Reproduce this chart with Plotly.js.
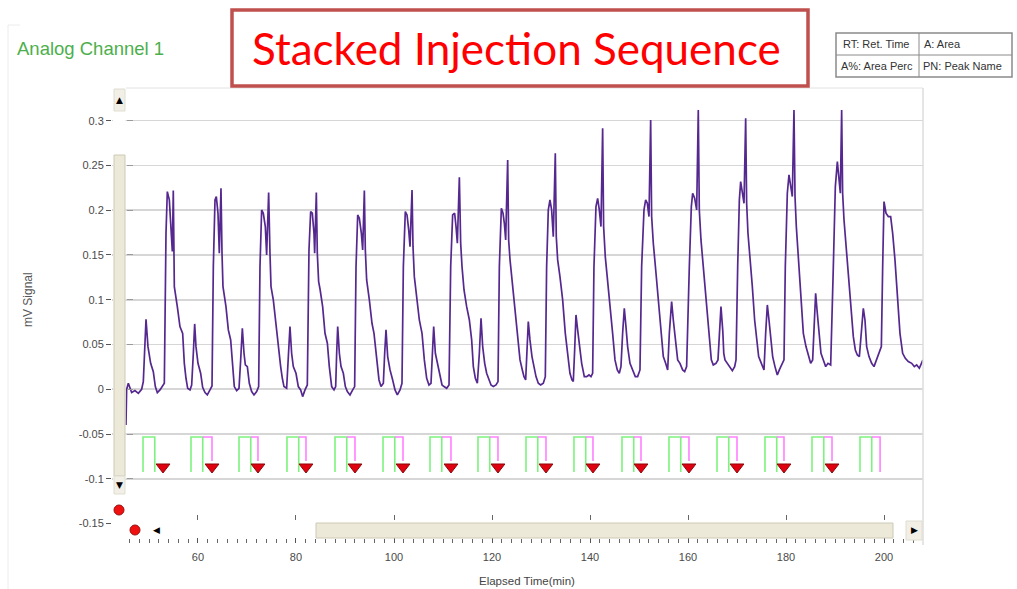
<!DOCTYPE html>
<html>
<head>
<meta charset="utf-8">
<script src="https://cdn.plot.ly/plotly-3.0.1.min.js"></script>
<style>
  html, body { margin: 0; padding: 0; background: #ffffff; }
  #chart { width: 1017px; height: 589px; }
</style>
</head>
<body>
<div id="chart"></div>
<script>
// ---------------- DATA ----------------
const timeMin = [
  45.30, 45.44, 45.78, 46.46, 47.14, 47.82, 48.50, 48.84, 49.39, 49.79, 50.34, 50.88, 51.29, 51.70, 52.24, 52.79, 53.13,
  53.47, 53.74, 54.15, 54.42, 54.76, 54.96, 55.08, 55.17, 55.78, 56.32, 56.87, 57.21, 57.55, 57.89, 58.37, 58.71,
  59.05, 59.32, 59.59, 60.00, 60.54, 60.95, 61.43, 61.90, 62.45, 62.86,
  63.13, 63.47, 63.74, 64.08, 64.35, 64.69, 64.90, 65.10, 65.71, 66.19, 66.67, 67.07, 67.41, 67.89, 68.37,
  68.71, 69.05, 69.39, 69.66, 70.07, 70.47, 70.95, 71.43, 71.97, 72.38,
  72.65, 72.99, 73.33, 73.74, 74.01, 74.42, 74.69, 74.90, 75.37, 75.92, 76.39, 76.87, 77.21, 77.55, 78.09,
  78.43, 78.77, 79.11, 79.45, 80.00, 80.47, 80.95, 81.36, 81.84, 82.31,
  82.65, 82.99, 83.33, 83.67, 83.81, 84.15, 84.35, 84.62, 84.90, 85.44, 85.92, 86.40, 86.80, 87.28, 87.76, 88.10,
  88.30, 88.51, 88.85, 89.19, 89.66, 90.07, 90.48, 91.02, 91.57, 91.97,
  92.25, 92.59, 92.93, 93.34, 93.61, 93.95, 94.15, 94.42, 94.97, 95.51, 95.92, 96.46, 96.94, 97.35, 97.83,
  98.10, 98.37, 98.71, 99.19, 99.73, 100.21, 100.68, 101.23, 101.63,
  101.91, 102.31, 102.66, 103.00, 103.27, 103.68, 103.88, 104.15, 104.63, 105.17, 105.72, 106.19, 106.67, 107.14, 107.55,
  107.83, 108.10, 108.44, 108.85, 109.39, 109.80, 110.21, 110.75, 111.23,
  111.57, 111.97, 112.38, 112.66, 112.93, 113.34, 113.61, 113.88, 114.29, 114.83, 115.38, 115.85, 116.19, 116.60, 117.01,
  117.42, 117.76, 118.10, 118.51, 118.91, 119.39, 119.80, 120.27, 120.82, 121.23,
  121.50, 121.91, 122.25, 122.52, 122.79, 123.20, 123.40, 123.68, 124.22, 124.76, 125.31, 125.72, 126.19, 126.53, 126.87,
  127.14, 127.41, 127.75, 128.16, 128.57, 128.98, 129.45, 129.93, 130.47, 130.88,
  131.15, 131.49, 131.83, 132.17, 132.51, 132.92, 133.12, 133.40, 133.87, 134.42, 134.96, 135.51, 135.91, 136.32, 136.59,
  136.87, 137.14, 137.48, 137.82, 138.30, 138.84, 139.32, 139.79, 140.20, 140.54,
  140.81, 141.22, 141.56, 141.90, 142.24, 142.58, 142.78, 143.12, 143.60, 144.08, 144.62, 145.10, 145.57, 145.98, 146.32,
  146.66, 147.00, 147.34, 147.68, 148.16, 148.70, 149.25, 149.72, 150.20,
  150.54, 151.02, 151.36, 151.70, 152.04, 152.38, 152.58, 152.92, 153.47, 153.94, 154.42, 154.96, 155.44, 155.85,
  156.19, 156.66, 157.00, 157.41, 157.89, 158.36, 158.91, 159.32, 159.72,
  160.27, 160.68, 160.95, 161.36, 161.77, 162.10, 162.31, 162.65, 163.12, 163.67, 164.21, 164.76, 165.16, 165.71, 166.12,
  166.39, 166.73, 167.10, 167.30, 167.55, 168.03, 168.57, 169.05, 169.52, 169.80,
  170.14, 170.48, 170.75, 171.16, 171.43, 171.77, 171.97, 172.24, 172.65, 173.13, 173.60, 174.01, 174.42, 174.83, 175.24, 175.51,
  175.85, 176.19, 176.53, 176.87, 177.28, 177.75, 178.23, 178.64, 179.18, 179.59,
  179.86, 180.27, 180.61, 180.95, 181.29, 181.63, 181.84, 182.11, 182.52, 183.00, 183.54, 184.08, 184.56, 185.03, 185.44,
  185.71, 186.05, 186.39, 186.73, 187.14, 187.62, 188.10, 188.57, 189.12,
  189.66, 190.07, 190.48, 190.82, 191.09, 191.36, 191.56, 191.84, 192.24, 192.72, 193.26, 193.74, 194.15, 194.56, 194.97,
  195.31, 195.78, 196.12, 196.46, 196.94, 197.48, 197.96, 198.50, 199.05, 199.46,
  199.73, 200.00, 200.41, 200.88, 201.36, 201.77, 202.24, 202.72, 203.26, 203.81, 204.35, 204.96, 205.65, 206.19, 206.67, 207.21, 207.69, 207.95
];
const signalMV = [
  -0.040, 0.000, 0.0067, -0.0037, -0.0015, -0.0045, 0.000, 0.0086, 0.0782, 0.0476, 0.029, 0.0197, 0.003, -0.0037, -0.0007, 0.0048, 0.0067,
  0.1742, 0.2208, 0.2115, 0.1891, 0.1538, 0.2219, 0.1538, 0.1147, 0.0923, 0.070, 0.0625, 0.029, 0.0123, 0.0011, -0.0007, 0.0048,
  0.0402, 0.073, 0.0476, 0.029, 0.0179, 0.0022, -0.0037, -0.0063, -0.0007, 0.0037,
  0.137, 0.2115, 0.2152, 0.1966, 0.1519, 0.2245, 0.1519, 0.1147, 0.0923, 0.0663, 0.0551, 0.0253, 0.003, -0.0015, 0.0011,
  0.0328, 0.0681, 0.0402, 0.0272, 0.0253, 0.0067, -0.0026, -0.0063, -0.0026, 0.003,
  0.137, 0.2003, 0.1966, 0.1817, 0.150, 0.2197, 0.1519, 0.1147, 0.0998, 0.070, 0.0514, 0.0253, 0.0123, 0.003, 0.0011,
  0.0402, 0.070, 0.0402, 0.0253, 0.0179, 0.003, -0.0007, -0.0082, -0.0007, 0.0048,
  0.1556, 0.1984, 0.1966, 0.1742, 0.1519, 0.2197, 0.1519, 0.1203, 0.112, 0.0923, 0.0625, 0.0514, 0.0253, 0.003, -0.0007, 0.003,
  0.0402, 0.070, 0.0402, 0.0253, 0.0179, 0.003, -0.0026, -0.0063, -0.0007, 0.003,
  0.137, 0.1947, 0.191, 0.1742, 0.1556, 0.2219, 0.1556, 0.1221, 0.0998, 0.0737, 0.0625, 0.0328, 0.0104, 0.003, 0.0067,
  0.0402, 0.0663, 0.0365, 0.0216, 0.0104, -0.0007, -0.0063, -0.0007, 0.0067,
  0.137, 0.1984, 0.1947, 0.178, 0.1593, 0.2226, 0.1593, 0.1258, 0.0998, 0.0774, 0.0625, 0.0328, 0.0123, 0.0048, 0.0067,
  0.0402, 0.070, 0.0402, 0.029, 0.0141, 0.0048, 0.003, 0.0011, 0.0048,
  0.137, 0.1947, 0.1966, 0.1817, 0.1631, 0.2368, 0.1631, 0.137, 0.1109, 0.0923, 0.0774, 0.0551, 0.0253, 0.0123, 0.0067,
  0.0402, 0.0793, 0.0477, 0.029, 0.0179, 0.0104, 0.0048, 0.003, 0.0048, 0.0086,
  0.137, 0.2022, 0.1966, 0.1854, 0.1668, 0.2561, 0.1668, 0.1445, 0.1147, 0.0923, 0.0625, 0.0328, 0.0216, 0.0141, 0.0104,
  0.0402, 0.0756, 0.0551, 0.0365, 0.0253, 0.0141, 0.0067, 0.0048, 0.0067, 0.0141,
  0.137, 0.2003, 0.2115, 0.2003, 0.1705, 0.2636, 0.1705, 0.1445, 0.1258, 0.0998, 0.0625, 0.0328, 0.0179, 0.0104, 0.0086,
  0.0439, 0.083, 0.0663, 0.0477, 0.029, 0.0141, 0.0141, 0.016, 0.0141, 0.0179,
  0.137, 0.204, 0.2133, 0.2003, 0.1817, 0.2915, 0.1817, 0.1482, 0.1221, 0.0998, 0.0625, 0.0328, 0.0216, 0.0179, 0.0253,
  0.0625, 0.0905, 0.070, 0.0477, 0.029, 0.0216, 0.0141, 0.0141, 0.0216,
  0.137, 0.2003, 0.2115, 0.2077, 0.1929, 0.3008, 0.1929, 0.1631, 0.1296, 0.0998, 0.070, 0.0365, 0.029, 0.0216,
  0.0625, 0.0979, 0.0774, 0.0551, 0.0328, 0.029, 0.0216, 0.0197, 0.0253,
  0.137, 0.204, 0.2189, 0.2133, 0.2003, 0.312, 0.2003, 0.1668, 0.137, 0.0998, 0.070, 0.0328, 0.0272, 0.029, 0.0328,
  0.0625, 0.0923, 0.065, 0.0402, 0.0328, 0.029, 0.0235, 0.0208, 0.0253, 0.0328,
  0.137, 0.2115, 0.232, 0.2189, 0.2077, 0.3027, 0.2077, 0.1742, 0.1482, 0.1147, 0.0774, 0.0551, 0.0365, 0.0309, 0.0253, 0.0216,
  0.0625, 0.0942, 0.0774, 0.0551, 0.0365, 0.0253, 0.016, 0.0216, 0.029, 0.0328,
  0.137, 0.2189, 0.2394, 0.2264, 0.2152, 0.312, 0.2152, 0.1817, 0.1482, 0.1147, 0.0625, 0.0477, 0.0365, 0.029, 0.0328,
  0.0625, 0.1072, 0.0849, 0.0625, 0.0402, 0.0328, 0.0253, 0.029, 0.0272,
  0.137, 0.2264, 0.2543, 0.2338, 0.2189, 0.312, 0.2189, 0.1891, 0.1631, 0.1296, 0.0923, 0.0588, 0.0439, 0.0383, 0.0365,
  0.0625, 0.0905, 0.0774, 0.0477, 0.0365, 0.029, 0.0253, 0.0328, 0.0402, 0.0477,
  0.137, 0.2096, 0.1966, 0.1929, 0.1929, 0.1742, 0.1445, 0.1072, 0.0625, 0.0402, 0.0346, 0.0309, 0.029, 0.0253, 0.0272, 0.0235, 0.029, 0.0328
];

// injection events (min)
const injStart = [48.78, 58.57, 68.37, 78.16, 87.96, 97.76, 107.35, 117.14, 126.94, 136.73, 146.53, 156.12, 165.92, 175.71, 185.31, 195.10];
const greenWidth = 2.4;  // duration of the green pulse (min)
const pinkEnd = [null, 62.86, 72.24, 82.04, 92.04, 101.84, 111.63, 121.22, 131.02, 140.61, 150.41, 160.20, 170.00, 179.59, 189.39, 199.20];
const dropTime = [52.86, 62.86, 72.24, 82.04, 92.04, 101.84, 111.63, 121.22, 131.02, 140.61, 150.41, 160.20, 170.00, 179.59, 189.39];
const pulseTop = -0.0533, pulseBottom = -0.0924, pinkBottom = -0.080, dropLevel = -0.0868;

const yTickVals = [0.3, 0.25, 0.2, 0.15, 0.1, 0.05, 0, -0.05, -0.1, -0.15];
const yTickText = ['0.3', '0.25', '0.2', '0.15', '0.1', '0.05', '0', '-0.05', '-0.1', '-0.15'];
const gridVals = [0.3, 0.25, 0.2, 0.15, 0.1, 0.05, 0, -0.05, -0.1];

// ---------------- LAYOUT HELPERS ----------------
const W = 1017, H = 589;
const L = 112, R = 923, T = 88, B = 543;
const px = x => (x - L) / (R - L);
const py = y => (B - y) / (B - T);
const XR = [42.45, 42.45 + (R - L) / 4.9];
const YR = [-0.1717, 0.3365];

// green / pink pulse paths built from the event arrays
const gx = [], gy = [], kx = [], ky = [];
injStart.forEach((s, i) => {
  gx.push(s, s, s + greenWidth, s + greenWidth, null);
  gy.push(pulseBottom, pulseTop, pulseTop, pulseBottom, null);
  if (pinkEnd[i] !== null) {
    const bottom = (i < dropTime.length) ? pinkBottom : pulseBottom;
    kx.push(s + greenWidth, pinkEnd[i], pinkEnd[i], null);
    ky.push(pulseTop, pulseTop, bottom, null);
  }
});

const traces = [
  { x: gx, y: gy, xaxis: 'x2', yaxis: 'y2', mode: 'lines', line: { color: '#7ef27e', width: 1.6 }, hoverinfo: 'skip' },
  { x: kx, y: ky, xaxis: 'x2', yaxis: 'y2', mode: 'lines', line: { color: '#ff80ff', width: 1.6 }, hoverinfo: 'skip' },
  { x: dropTime, y: dropTime.map(() => dropLevel), xaxis: 'x2', yaxis: 'y2', mode: 'markers',
    marker: { symbol: 'triangle-down', size: 12, color: '#e00010', line: { color: '#8a0a0a', width: 1 } }, hoverinfo: 'skip' },
  { x: timeMin, y: signalMV, mode: 'lines', line: { color: '#55288f', width: 1.7 }, hoverinfo: 'skip' }
];

const tickFont = { family: 'Liberation Sans, Arial, sans-serif', size: 11, color: '#4a4a4a' };

const beige = '#ece9d8', beigeLine = '#cdc9b6';
const shapes = [
  // faint outer frame
  { type: 'line', xref: 'paper', yref: 'paper', x0: px(8), x1: px(8), y0: py(25), y1: py(589), line: { color: '#ececec', width: 1 } },
  { type: 'line', xref: 'paper', yref: 'paper', x0: px(8), x1: px(20), y0: py(25), y1: py(25), line: { color: '#ececec', width: 1 } },
  // plot borders
  { type: 'line', xref: 'paper', yref: 'paper', x0: px(126), x1: px(923), y0: py(88), y1: py(88), line: { color: '#e2e2e2', width: 1 } },
  { type: 'line', xref: 'paper', yref: 'paper', x0: px(923), x1: px(923), y0: py(88), y1: py(545), line: { color: '#dddddd', width: 1.5 } },
  // vertical scrollbar
  { type: 'rect', xref: 'paper', yref: 'paper', x0: px(113), x1: px(125.5), y0: py(88), y1: py(545), fillcolor: '#ffffff', line: { width: 0 }, layer: 'above' },
  { type: 'rect', xref: 'paper', yref: 'paper', x0: px(114), x1: px(125), y0: py(89), y1: py(111), fillcolor: '#f1efe6', line: { color: '#e0ddd0', width: 1 }, layer: 'above' },
  { type: 'rect', xref: 'paper', yref: 'paper', x0: px(114), x1: px(125), y0: py(155), y1: py(476), fillcolor: beige, line: { color: beigeLine, width: 1 }, layer: 'above' },
  { type: 'rect', xref: 'paper', yref: 'paper', x0: px(114), x1: px(125), y0: py(476), y1: py(494), fillcolor: '#f1efe6', line: { color: '#e0ddd0', width: 1 }, layer: 'above' },
  // horizontal scrollbar
  { type: 'rect', xref: 'paper', yref: 'paper', x0: px(316), x1: px(893), y0: py(523), y1: py(538), fillcolor: beige, line: { color: beigeLine, width: 1 }, layer: 'above' },
  { type: 'rect', xref: 'paper', yref: 'paper', x0: px(906), x1: px(922), y0: py(521), y1: py(540), fillcolor: '#f1efe6', line: { color: '#e0ddd0', width: 1 }, layer: 'above' },
  // red dots
  { type: 'circle', xref: 'paper', yref: 'paper', x0: px(114), x1: px(124), y0: py(505), y1: py(515), fillcolor: '#f01010', line: { color: '#9a1010', width: 1 }, layer: 'above' },
  { type: 'circle', xref: 'paper', yref: 'paper', x0: px(130), x1: px(140), y0: py(525), y1: py(535), fillcolor: '#f01010', line: { color: '#9a1010', width: 1 }, layer: 'above' },
  // title box
  { type: 'rect', xref: 'paper', yref: 'paper', x0: px(232), x1: px(808), y0: py(10), y1: py(86), fillcolor: 'rgba(0,0,0,0)', line: { color: '#c0504d', width: 3.5 }, layer: 'above' },
  // legend table
  { type: 'rect', xref: 'paper', yref: 'paper', x0: px(836), x1: px(1012), y0: py(33), y1: py(77), fillcolor: '#ffffff', line: { color: '#8a8a8a', width: 1.5 }, layer: 'above' },
  { type: 'line', xref: 'paper', yref: 'paper', x0: px(836), x1: px(1012), y0: py(55), y1: py(55), line: { color: '#8a8a8a', width: 1 }, layer: 'above' },
  { type: 'line', xref: 'paper', yref: 'paper', x0: px(919), x1: px(919), y0: py(33), y1: py(77), line: { color: '#8a8a8a', width: 1 }, layer: 'above' }
];

const annFont = (size, color, family) => ({ family: family || 'Liberation Sans, Arial, sans-serif', size: size, color: color });
const ann = (x, y, text, font, extra) => Object.assign({
  xref: 'paper', yref: 'paper', x: px(x), y: py(y), text: text, showarrow: false, font: font,
  xanchor: 'center', yanchor: 'middle'
}, extra || {});

const annotations = [
  ann(516, 48, 'Stacked Injection Sequence', annFont(44, '#ff0000', 'Lato, Carlito, Calibri, sans-serif')),
  ann(15, 48, 'Analog Channel 1', annFont(18.5, '#4caf4c'), { xanchor: 'left' }),
  ann(28, 300, 'mV Signal', annFont(12, '#555555'), { textangle: -90 }),
  ann(527, 581, 'Elapsed Time(min)', annFont(11.5, '#444444')),
  ann(841, 44, 'RT: Ret. Time', annFont(11, '#333333'), { xanchor: 'left' }),
  ann(922, 44, 'A: Area', annFont(11, '#333333'), { xanchor: 'left' }),
  ann(839, 66, 'A%: Area Perc', annFont(11, '#333333'), { xanchor: 'left' }),
  ann(921, 66, 'PN: Peak Name', annFont(11, '#333333'), { xanchor: 'left' }),
  ann(119.5, 100, '▲', annFont(9, '#000000', 'DejaVu Sans')),
  ann(119.5, 485, '▼', annFont(9, '#000000', 'DejaVu Sans')),
  ann(156, 530, '◀', annFont(9, '#000000', 'DejaVu Sans')),
  ann(914, 530, '▶', annFont(9, '#000000', 'DejaVu Sans'))
];

const layout = {
  width: W, height: H,
  margin: { l: L, r: W - R, t: T, b: H - B, pad: 0 },
  paper_bgcolor: '#ffffff', plot_bgcolor: '#ffffff',
  showlegend: false, hovermode: false,
  xaxis: {
    range: XR, showgrid: false, zeroline: false, showline: false,
    tickmode: 'linear', tick0: 0, dtick: 20, ticks: 'inside', ticklen: 5, tickcolor: '#555555',
    minor: { dtick: 2, tick0: 0, ticks: 'inside', ticklen: 4, tickcolor: '#666666', showgrid: false },
    tickfont: tickFont, ticklabelstandoff: 6, fixedrange: true
  },
  xaxis2: {
    overlaying: 'x', anchor: 'free', position: py(514), range: XR,
    showgrid: false, zeroline: false, showline: false, showticklabels: false,
    tickmode: 'linear', tick0: 0, dtick: 20, ticks: 'outside', ticklen: 5, tickcolor: '#666666', fixedrange: true
  },
  yaxis: {
    range: YR, showgrid: false, zeroline: false, showline: false,
    tickmode: 'array', tickvals: yTickVals, ticktext: yTickText,
    ticks: 'outside', ticklen: 5, tickcolor: '#555555', tickfont: tickFont, fixedrange: true
  },
  yaxis2: {
    overlaying: 'y', anchor: 'free', side: 'left', position: px(126), range: YR,
    showgrid: true, gridcolor: '#d6d6d6', gridwidth: 1.6, zeroline: false, showline: false, showticklabels: false,
    tickmode: 'array', tickvals: gridVals, ticks: 'inside', ticklen: 6, tickcolor: '#9a9a9a', fixedrange: true
  },
  shapes: shapes,
  annotations: annotations
};

Plotly.newPlot('chart', traces, layout, { displayModeBar: false, staticPlot: true });
</script>
</body>
</html>
